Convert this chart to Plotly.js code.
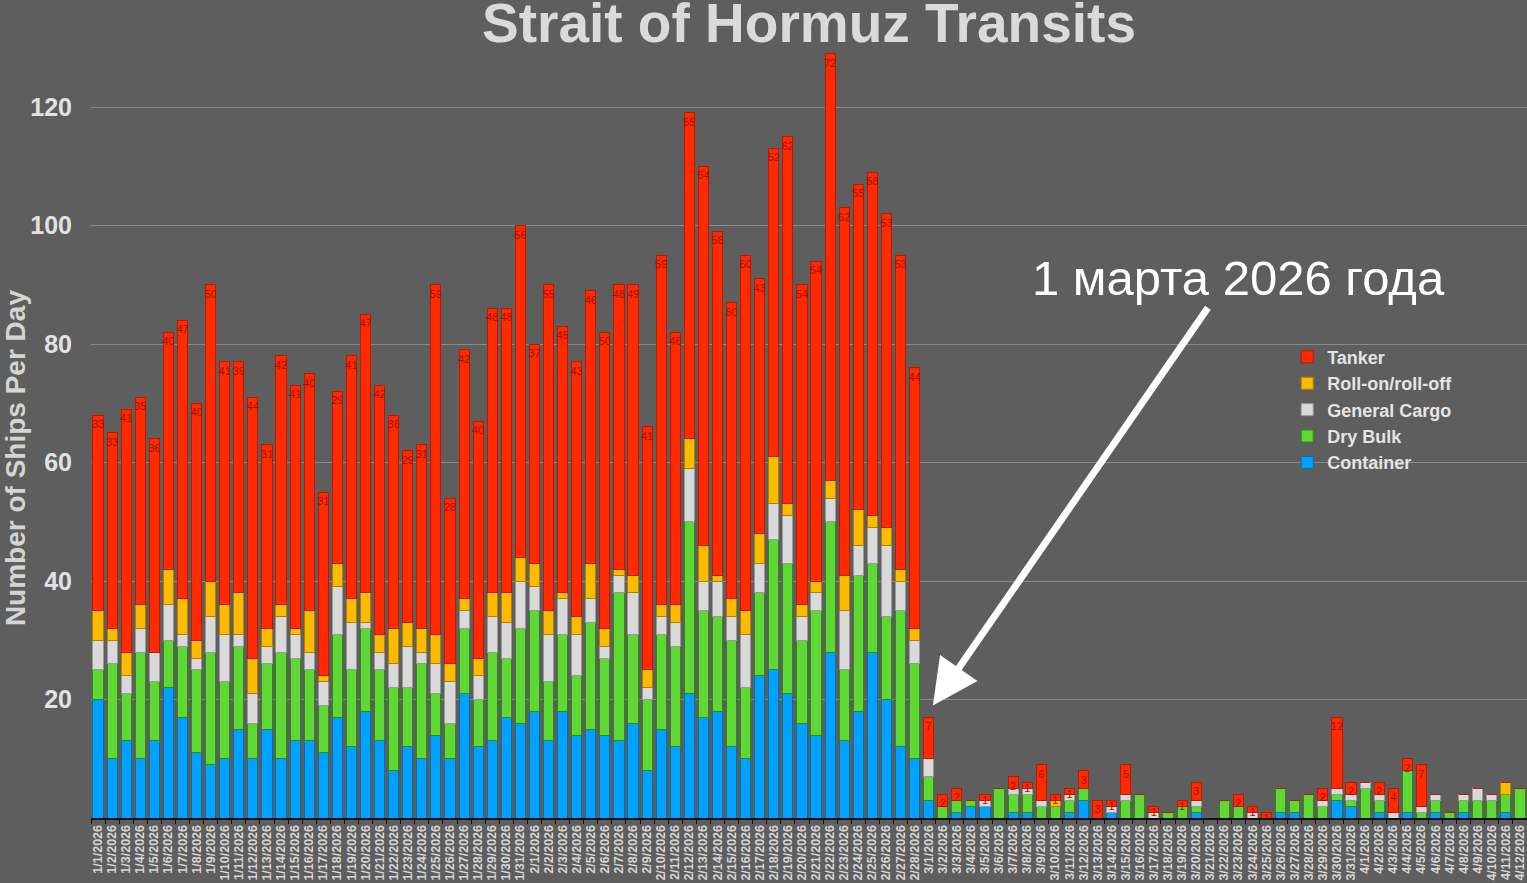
<!DOCTYPE html>
<html>
<head>
<meta charset="utf-8">
<script src="https://cdn.plot.ly/plotly-3.0.1.min.js"></script>
<style>
  html, body { margin: 0; padding: 0; background: #5e5e5e; }
  #chart_area { width: 1527px; height: 883px; }
</style>
</head>
<body>
<div id="chart_area"></div>
<script>
var dates = [
  '1/1/2026','1/2/2026','1/3/2026','1/4/2026','1/5/2026','1/6/2026','1/7/2026','1/8/2026','1/9/2026','1/10/2026',
  '1/11/2026','1/12/2026','1/13/2026','1/14/2026','1/15/2026','1/16/2026','1/17/2026','1/18/2026','1/19/2026','1/20/2026',
  '1/21/2026','1/22/2026','1/23/2026','1/24/2026','1/25/2026','1/26/2026','1/27/2026','1/28/2026','1/29/2026','1/30/2026',
  '1/31/2026','2/1/2026','2/2/2026','2/3/2026','2/4/2026','2/5/2026','2/6/2026','2/7/2026','2/8/2026','2/9/2026',
  '2/10/2026','2/11/2026','2/12/2026','2/13/2026','2/14/2026','2/15/2026','2/16/2026','2/17/2026','2/18/2026','2/19/2026',
  '2/20/2026','2/21/2026','2/22/2026','2/23/2026','2/24/2026','2/25/2026','2/26/2026','2/27/2026','2/28/2026','3/1/2026',
  '3/2/2026','3/3/2026','3/4/2026','3/5/2026','3/6/2026','3/7/2026','3/8/2026','3/9/2026','3/10/2026','3/11/2026',
  '3/12/2026','3/13/2026','3/14/2026','3/15/2026','3/16/2026','3/17/2026','3/18/2026','3/19/2026','3/20/2026','3/21/2026',
  '3/22/2026','3/23/2026','3/24/2026','3/25/2026','3/26/2026','3/27/2026','3/28/2026','3/29/2026','3/30/2026','3/31/2026',
  '4/1/2026','4/2/2026','4/3/2026','4/4/2026','4/5/2026','4/6/2026','4/7/2026','4/8/2026','4/9/2026','4/10/2026',
  '4/11/2026','4/12/2026'
];

// ships per day by type
var container = [
  20,10,13,10,13,22,17,11,9,10, 15,10,15,10,13,13,11,17,12,18, 13,8,12,10,14,10,21,12,13,17,
  16,18,13,18,14,15,14,13,16,8, 15,12,21,17,18,12,10,24,25,21, 16,14,28,13,18,28,20,12,10,3,
  0,1,2,2,0,1,1,0,0,1, 3,0,1,0,0,0,0,0,1,0, 0,0,0,0,1,1,0,0,3,2, 0,1,0,1,0,1,0,1,0,0, 1,0
];
var dryBulk = [
  5,16,8,18,10,8,12,14,19,13, 14,6,11,18,14,12,8,14,13,14, 12,14,10,16,7,6,11,8,15,10,
  16,17,10,13,10,18,13,25,15,12, 16,17,29,18,16,18,12,14,22,22, 14,21,22,12,23,15,14,23,16,4,
  2,2,1,0,5,3,3,2,2,2, 2,0,0,3,4,0,1,2,1,0, 3,2,0,0,4,2,4,2,1,1, 5,2,0,7,1,2,1,2,3,3, 3,5
];
var generalCargo = [
  5,4,3,4,5,6,2,2,6,8, 2,5,3,6,4,3,4,8,8,1, 3,4,7,2,5,7,3,4,6,6,
  8,4,8,6,7,4,2,3,7,2, 3,4,9,5,6,4,9,5,6,8, 4,3,4,10,5,6,12,5,4,3,
  0,0,0,1,0,1,1,1,0,1, 0,0,1,1,0,1,0,0,1,0, 0,0,1,0,0,0,0,1,1,1, 1,1,1,0,1,1,0,1,2,1, 0,0
];
var rollOnRollOff = [
  5,2,4,4,0,6,6,3,6,5, 7,6,3,2,1,7,1,4,4,5, 3,6,4,4,5,3,2,3,4,5,
  4,4,4,1,3,6,3,1,3,3, 2,3,5,6,1,3,4,5,8,2, 2,2,3,6,6,2,3,2,2,0,
  0,0,0,0,0,0,0,0,1,0, 0,0,0,0,0,0,0,0,0,0, 0,0,0,0,0,0,0,0,0,0, 0,0,0,0,0,0,0,0,0,0, 2,0
];
var tanker = [
  33,33,41,35,36,40,47,40,50,41, 39,44,31,42,41,40,31,29,41,47, 42,36,29,31,59,28,42,40,48,48,
  56,37,55,45,43,46,50,48,49,41, 59,46,55,64,58,50,60,43,52,62, 54,54,72,62,55,58,53,53,44,7,
  2,2,0,1,0,2,1,6,1,1, 3,3,1,5,0,1,0,1,3,0, 0,2,1,1,0,0,0,2,12,2, 0,2,4,2,7,0,0,0,0,0, 0,0
];

var tankerText = tanker.map(function (v) { return v > 0 ? String(v) : ''; });

function series(name, values, color, edge) {
  return {
    type: 'bar',
    name: name,
    x: dates,
    y: values,
    marker: { color: color, line: { color: edge, width: 1 } },
    hoverinfo: 'x+y+name'
  };
}

var trace0 = series('Container', container, '#00a2ff', '#0a6fae');
var trace1 = series('Dry Bulk', dryBulk, '#5fd835', '#2f8a16');
var trace2 = series('General Cargo', generalCargo, '#d9d9d9', '#9a9a9a');
var trace3 = series('Roll-on/roll-off', rollOnRollOff, '#fdbb00', '#b07f00');
var trace4 = series('Tanker', tanker, '#ff2a00', '#b81b00');
trace4.text = tankerText;
trace4.textposition = 'inside';
trace4.insidetextanchor = 'end';
trace4.textangle = 0;
trace4.textfont = { family: 'Liberation Sans, Arial, sans-serif', size: 11, color: '#a01300' };

var data = [ trace0, trace1, trace2, trace3, trace4 ];

var layout = {
  width: 1527,
  height: 883,
  paper_bgcolor: '#5e5e5e',
  plot_bgcolor: '#5e5e5e',
  margin: { l: 91, r: 0, t: 0, b: 65 },
  barmode: 'stack',
  bargap: 0.28,
  uniformtext: { mode: 'show', minsize: 11 },
  font: { family: 'Liberation Sans, Arial, sans-serif', color: '#dcdcdc' },
  showlegend: true,
  legend: {
    x: 0.833, y: 0.586, xanchor: 'left', yanchor: 'top',
    traceorder: 'reversed',
    bgcolor: 'rgba(0,0,0,0)',
    font: { size: 18, color: '#e4e4e4', family: 'Liberation Sans, Arial, sans-serif', weight: 'bold' },
    itemwidth: 30,
    tracegroupgap: 0
  },
  xaxis: {
    type: 'category',
    range: [-0.5, 101.5],
    tickmode: 'linear',
    tick0: 0,
    dtick: 1,
    tickangle: -90,
    tickfont: { size: 12.5, color: '#d6d6d6', weight: 'bold' },
    showgrid: false,
    showline: true,
    linecolor: '#111111',
    linewidth: 2,
    ticks: 'outside',
    tickson: 'boundaries',
    ticklen: 4,
    tickcolor: '#111111',
    automargin: false
  },
  yaxis: {
    range: [0, 138.06],
    tickvals: [20, 40, 60, 80, 100, 120],
    tickfont: { size: 25, color: '#e2e2e2', weight: 'bold' },
    ticklabelstandoff: 18,
    gridcolor: '#8a8a8a',
    gridwidth: 1,
    zeroline: false,
    showline: false,
    automargin: false
  },
  annotations: [
    {
      xref: 'paper', yref: 'paper', x: 0.5, y: 1, xanchor: 'center', yanchor: 'top',
      yshift: 10, showarrow: false,
      text: 'Strait of Hormuz Transits',
      font: { size: 55, color: '#dadada', weight: 'bold' }
    },
    {
      xref: 'paper', yref: 'paper', x: -0.0529, y: 0.44, xanchor: 'center', yanchor: 'middle',
      showarrow: false, textangle: -90,
      text: 'Number of Ships Per Day',
      font: { size: 28, color: '#d4d4d4', weight: 'bold' }
    },
    {
      xref: 'paper', yref: 'paper', x: 0.799, y: 0.66, xanchor: 'center', yanchor: 'middle',
      showarrow: false,
      text: '1 марта 2026 года',
      font: { size: 49, color: '#ffffff', family: 'Liberation Sans, Arial, sans-serif' }
    },
    {
      xref: 'x', yref: 'y', x: 59.3, y: 19, ax: 278, ay: -402,
      text: ' ', showarrow: true,
      arrowcolor: '#ffffff', arrowwidth: 7, arrowhead: 2, arrowsize: 1.3
    }
  ]
};

var config = { responsive: false, displayModeBar: false, staticPlot: true };

Plotly.newPlot('chart_area', data, layout, config);
</script>
</body>
</html>
